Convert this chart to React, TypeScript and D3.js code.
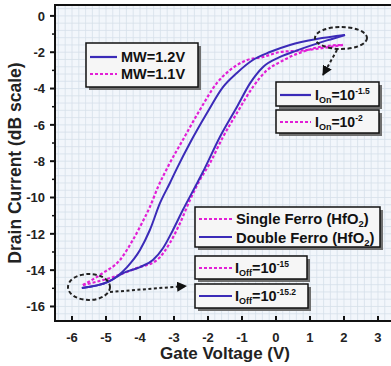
import React from "react";
import * as d3 from "d3";

const doubleFwdV = [-5.71, -4.94, -4.5, -4.0, -3.62, -3.32, -3.03, -2.74, -2.38, -2.15, -1.65, -1.15, -0.76, -0.38, 0.12, 0.62, 1.5, 2.03];
const doubleFwdI = [-14.98, -14.65, -14.16, -13.83, -13.44, -12.78, -11.79, -10.69, -9.42, -8.6, -6.67, -5.02, -3.7, -2.81, -2.26, -1.9, -1.35, -1.05];
const doubleRevV = [-5.71, -4.94, -4.38, -4.0, -3.71, -3.41, -3.12, -2.91, -2.53, -2.03, -1.56, -1.15, -0.68, -0.18, 0.41, 1.2, 2.03];
const doubleRevI = [-14.98, -14.65, -13.83, -12.89, -11.79, -10.3, -9.2, -8.38, -7.0, -5.35, -3.92, -3.14, -2.43, -1.99, -1.6, -1.27, -1.05];
const singleFwdV = [-5.68, -4.79, -4.09, -3.5, -3.12, -2.82, -2.53, -2.24, -1.94, -1.56, -1.15, -0.68, -0.26, 0.12, 0.79, 1.5, 1.97];
const singleFwdI = [-14.82, -14.38, -13.88, -13.44, -12.5, -11.4, -10.14, -9.04, -8.1, -6.67, -5.35, -3.92, -2.98, -2.54, -1.97, -1.65, -1.6];
const singleRevV = [-5.68, -5.09, -4.59, -4.21, -3.94, -3.71, -3.47, -3.15, -2.74, -2.24, -1.74, -1.35, -0.85, -0.38, 0.12, 0.79, 1.97];
const singleRevI = [-14.82, -14.16, -13.44, -12.34, -11.4, -10.52, -9.42, -8.2, -6.83, -5.18, -3.7, -2.98, -2.43, -2.26, -1.99, -1.9, -1.6];

const xTicks = [-6, -5, -4, -3, -2, -1, 0, 1, 2, 3];
const yTicks = [0, -2, -4, -6, -8, -10, -12, -14, -16];
const yMinorTicks = [-1, -3, -5, -7, -9, -11, -13, -15];

const BLUE = "#3b2bb8";
const MAG = "#e21fd6";
const FONT = "'Liberation Sans', Arial, sans-serif";

const W = 391, H = 366;
const L = 55, T = 5, R = 396, B = 321;

const x = d3.scaleLinear().domain([-6.5, 3.53]).range([L, R]);
const y = d3.scaleLinear().domain([0.6, -16.8]).range([T, B]);

function zip(v: number[], i: number[]): [number, number][] {
  return v.map((d, k) => [d, i[k]]);
}

const line = d3
  .line<[number, number]>()
  .x((d) => x(d[0]))
  .y((d) => y(d[1]))
  .curve(d3.curveMonotoneX);

function Box({ x0, y0, w, h }: { x0: number; y0: number; w: number; h: number }) {
  return (
    <g>
      <rect x={x0 + 3} y={y0 + 3} width={w} height={h} fill="#6f6f6f" />
      <rect x={x0} y={y0} width={w} height={h} fill="#f6f6f6" stroke="#111" strokeWidth={1.5} />
    </g>
  );
}

function Sample({ x0, yy, w, dashed }: { x0: number; yy: number; w: number; dashed: boolean }) {
  return (
    <line
      x1={x0}
      x2={x0 + w}
      y1={yy}
      y2={yy}
      stroke={dashed ? MAG : BLUE}
      strokeWidth={2.2}
      strokeDasharray={dashed ? "3,2" : undefined}
    />
  );
}

export default function App() {
  const gridX = d3.range(-6.4, 3.6, 0.2);
  const gridY = d3.range(0.4, -16.81, -0.4);
  return (
    <svg
      width={W}
      height={H}
      style={{ position: "absolute", left: 0, top: 0, fontFamily: FONT }}
    >
      <defs>
        <clipPath id="plotclip">
          <rect x={L} y={T} width={R - L} height={B - T} />
        </clipPath>
        <marker id="ah" viewBox="0 0 10 10" refX="9" refY="5" markerWidth="5" markerHeight="5" orient="auto">
          <path d="M0,0 L10,5 L0,10 z" fill="#111" />
        </marker>
      </defs>
      <rect x={0} y={0} width={W} height={H} fill="#ffffff" />
      <rect x={L} y={T} width={R - L} height={B - T} fill="#f2f6fb" />
      <g clipPath="url(#plotclip)">
        {gridX.map((v, k) => (
          <line key={"gx" + k} x1={x(v)} x2={x(v)} y1={T} y2={B} stroke="#d5dfea" strokeWidth={0.8} />
        ))}
        {gridY.map((v, k) => (
          <line key={"gy" + k} x1={L} x2={R} y1={y(v)} y2={y(v)} stroke="#d5dfea" strokeWidth={0.8} />
        ))}
        <path d={line(zip(singleRevV, singleRevI)) || ""} fill="none" stroke={MAG} strokeWidth={2.2} strokeDasharray="3,2" />
        <path d={line(zip(singleFwdV, singleFwdI)) || ""} fill="none" stroke={MAG} strokeWidth={2.2} strokeDasharray="3,2" />
        <path d={line(zip(doubleRevV, doubleRevI)) || ""} fill="none" stroke={BLUE} strokeWidth={2} />
        <path d={line(zip(doubleFwdV, doubleFwdI)) || ""} fill="none" stroke={BLUE} strokeWidth={2} />
      </g>
      {/* frame */}
      <path d={`M${R},${T} L${L},${T} L${L},${B} L${R},${B}`} fill="none" stroke="#111" strokeWidth={2} />
      {/* y ticks */}
      {yTicks.map((t) => (
        <g key={"yt" + t}>
          <line x1={L - 5} x2={L} y1={y(t)} y2={y(t)} stroke="#111" strokeWidth={2} />
          <text x={L - 10} y={y(t)} dy="0.36em" textAnchor="end" fontSize={13} fontWeight="bold" fill="#222">
            {t}
          </text>
        </g>
      ))}
      {yMinorTicks.map((t) => (
        <line key={"ym" + t} x1={L - 3} x2={L} y1={y(t)} y2={y(t)} stroke="#111" strokeWidth={1.5} />
      ))}
      {/* x ticks */}
      {xTicks.map((t) => (
        <g key={"xt" + t}>
          <line x1={x(t)} x2={x(t)} y1={B} y2={B - 5} stroke="#111" strokeWidth={2} />
          <text x={x(t)} y={B + 21} textAnchor="middle" fontSize={13} fontWeight="bold" fill="#222">
            {t}
          </text>
        </g>
      ))}
      <text x={225} y={359} textAnchor="middle" fontSize={17} fontWeight="bold" fill="#222">
        Gate Voltage (V)
      </text>
      <text
        transform={`translate(21,${(T + B) / 2}) rotate(-90)`}
        textAnchor="middle"
        fontSize={17.5}
        fontWeight="bold"
        fill="#222"
      >
        Drain Current (dB scale)
      </text>

      {/* MW legend */}
      <Box x0={86} y0={43} w={112} h={44} />
      <Sample x0={90} yy={57} w={27} dashed={false} />
      <Sample x0={90} yy={74} w={27} dashed={true} />
      <text x={121} y={62} fontSize={14.5} fontWeight="bold" fill="#111">MW=1.2V</text>
      <text x={121} y={79} fontSize={14.5} fontWeight="bold" fill="#111">MW=1.1V</text>

      {/* Ion legends */}
      <Box x0={276} y0={82} w={103} h={24} />
      <Sample x0={280} yy={95} w={31} dashed={false} />
      <text x={315} y={100} fontSize={14} fontWeight="bold" fill="#111">
        I<tspan fontSize={9} dy={3}>On</tspan>
        <tspan dy={-3}>=10</tspan>
        <tspan fontSize={8.5} dy={-6}>-1.5</tspan>
      </text>
      <Box x0={276} y0={110} w={103} h={23} />
      <Sample x0={280} yy={122} w={31} dashed={true} />
      <text x={315} y={127} fontSize={14} fontWeight="bold" fill="#111">
        I<tspan fontSize={9} dy={3}>On</tspan>
        <tspan dy={-3}>=10</tspan>
        <tspan fontSize={8.5} dy={-6}>-2</tspan>
      </text>

      {/* Ferro legend */}
      <Box x0={195} y0={207} w={185} h={40} />
      <Sample x0={199} yy={219} w={33} dashed={true} />
      <Sample x0={199} yy={237} w={33} dashed={false} />
      <text x={236} y={224} fontSize={14.8} fontWeight="bold" fill="#111">
        Single Ferro (HfO<tspan fontSize={9.5} dy={3}>2</tspan><tspan dy={-3}>)</tspan>
      </text>
      <text x={236} y={242.5} fontSize={14.8} fontWeight="bold" fill="#111">
        Double Ferro (HfO<tspan fontSize={9.5} dy={3}>2</tspan><tspan dy={-3}>)</tspan>
      </text>

      {/* Ioff legends */}
      <Box x0={195} y0={256} w={112} h={23} />
      <Sample x0={199} yy={268} w={33} dashed={true} />
      <text x={235} y={273} fontSize={14.5} fontWeight="bold" fill="#111">
        I<tspan fontSize={9} dy={3}>Off</tspan>
        <tspan dy={-3}>=10</tspan>
        <tspan fontSize={8.5} dy={-6}>-15</tspan>
      </text>
      <Box x0={195} y0={284} w={113} h={24} />
      <Sample x0={199} yy={296} w={33} dashed={false} />
      <text x={235} y={301} fontSize={14.5} fontWeight="bold" fill="#111">
        I<tspan fontSize={9} dy={3}>Off</tspan>
        <tspan dy={-3}>=10</tspan>
        <tspan fontSize={8.5} dy={-6}>-15.2</tspan>
      </text>

      {/* annotations */}
      <ellipse cx={341} cy={38} rx={26} ry={11} fill="none" stroke="#222" strokeWidth={2} strokeDasharray="4,2.5" />
      <line x1={337} y1={50} x2={323} y2={75} stroke="#222" strokeWidth={2} strokeDasharray="3,2.5" markerEnd="url(#ah)" />
      <ellipse cx={89} cy={287} rx={21} ry={13} fill="none" stroke="#222" strokeWidth={2} strokeDasharray="4,2.5" />
      <line x1={110} y1={292} x2={186} y2={286} stroke="#222" strokeWidth={2} strokeDasharray="3,2.5" markerEnd="url(#ah)" />
    </svg>
  );
}
